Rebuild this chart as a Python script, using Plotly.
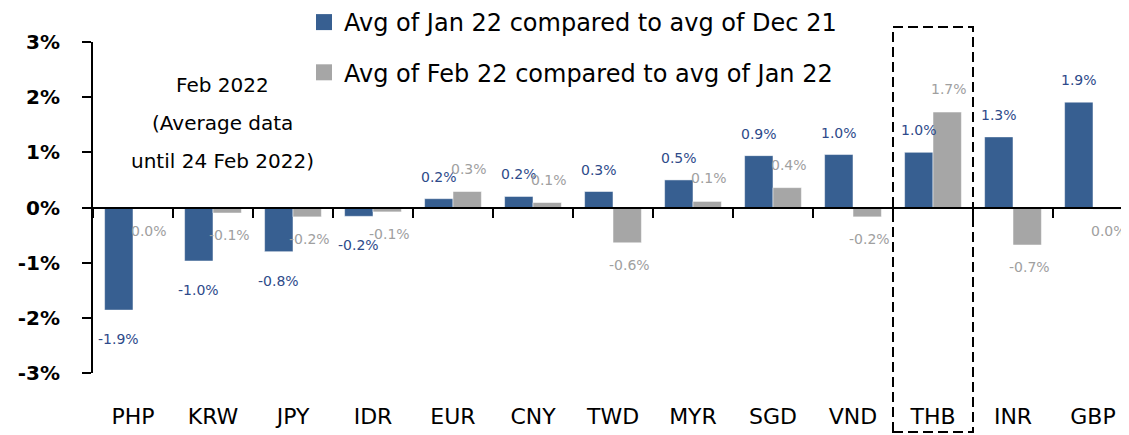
import plotly.graph_objects as go

categories = ["PHP", "KRW", "JPY", "IDR", "EUR", "CNY", "TWD", "MYR", "SGD", "VND", "THB", "INR", "GBP"]
jan_vs_dec = [-1.86, -0.97, -0.80, -0.16, 0.16, 0.20, 0.29, 0.50, 0.94, 0.96, 1.00, 1.28, 1.91]
feb_vs_jan = [-0.02, -0.10, -0.17, -0.08, 0.29, 0.09, -0.64, 0.11, 0.36, -0.17, 1.73, -0.68, -0.03]
series_names = ["Avg of Jan 22 compared to avg of Dec 21", "Avg of Feb 22 compared to avg of Jan 22"]
y_ticks = [-3, -2, -1, 0, 1, 2, 3]
y_tick_text = ["-3%", "-2%", "-1%", "0%", "1%", "2%", "3%"]
note_lines = ["Feb 2022", "(Average data", "until 24 Feb 2022)"]
highlight = "THB"

BLUE = "#375F91"
GRAY = "#A6A6A6"
BLUE_TXT = "#2E4A8A"
GRAY_TXT = "#A0A0A0"
FONT = "DejaVu Sans"
BARGAP = 0.29

# page body adds an 8px offset; compensate so the figure lines up in the 1129x435 window
OFF = 8
W, H = 1129 - OFF, 435 - OFF
ML, MT, MB = 93 - OFF, 42 - OFF, 62
PW, PH = W - ML, H - MT - MB

def fmt(v):
    s = f"{v:.1f}"
    if s == "-0.0":
        s = "0.0"
    return s + "%"

fig = go.Figure()
for vals, col in [(jan_vs_dec, BLUE), (feb_vs_jan, GRAY)]:
    fig.add_trace(go.Bar(x=categories, y=vals,
                         marker=dict(color=col, line=dict(color="rgba(255,255,255,0.5)", width=1)),
                         showlegend=False, hoverinfo="skip"))
# legend entries
for i, (col, name) in enumerate([(BLUE, series_names[0]), (GRAY, series_names[1])]):
    fig.add_trace(go.Scatter(x=[None], y=[None], mode="markers", name=name, legendgroup=f"g{i}",
                             marker=dict(symbol="square", size=18, color=col)))
# invisible trace for the category-label axis
fig.add_trace(go.Scatter(x=categories, y=[0] * len(categories), xaxis="x2", mode="markers",
                         marker=dict(opacity=0), showlegend=False, hoverinfo="skip"))

half = (1 - BARGAP) / 4
for idx, (a, b) in enumerate(zip(jan_vs_dec, feb_vs_jan)):
    fig.add_annotation(x=idx - half, y=a, text=fmt(a), showarrow=False,
                       yshift=22 if a >= 0 else -29, font=dict(family=FONT, size=14, color=BLUE_TXT))
    fig.add_annotation(x=idx + half, y=b, text=fmt(b), showarrow=False, xshift=2,
                       yshift=23 if b >= 0 else -22, font=dict(family=FONT, size=14, color=GRAY_TXT))

for i, line in enumerate(note_lines):
    fig.add_annotation(xref="paper", yref="paper", x=(222 - 93) / PW, y=1 - (85 + 38 * i - 42) / PH,
                       xanchor="center", yanchor="middle",
                       text=line, showarrow=False, font=dict(family=FONT, size=20, color="black"))

hi = categories.index(highlight)
fig.add_shape(type="rect", xref="x", yref="paper", x0=hi - 0.5, x1=hi + 0.5,
              y0=-(432 - 373) / PH, y1=1 + (42 - 27) / PH,
              line=dict(color="black", width=2, dash="10px,5px"), fillcolor="rgba(0,0,0,0)")

fig.update_layout(
    width=W, height=H,
    margin=dict(l=ML, r=0, t=MT, b=MB, autoexpand=False),
    paper_bgcolor="white", plot_bgcolor="white",
    barmode="group", bargap=BARGAP, bargroupgap=0,
    font=dict(family=FONT, color="black"),
    legend=dict(x=(304 - 93) / PW, y=1 + (42 + 0) / PH, xanchor="left", yanchor="top",
                font=dict(family=FONT, size=24, color="black"), tracegroupgap=16,
                bgcolor="rgba(0,0,0,0)", itemwidth=30),
    xaxis=dict(type="category", categoryarray=categories, range=[-0.5, 12.45],
               anchor="free", position=0.5, showline=True, linecolor="black", linewidth=2,
               ticks="outside", tickson="boundaries", ticklen=9, tickwidth=2, tickcolor="black",
               showticklabels=False, showgrid=False, zeroline=False),
    xaxis2=dict(type="category", categoryarray=categories, matches="x", overlaying="x", anchor="y",
                side="bottom", showline=False, ticks="", showgrid=False, zeroline=False,
                ticklabelstandoff=28, tickfont=dict(family=FONT, size=22, color="black")),
    yaxis=dict(range=[-3, 3], tickvals=y_ticks, ticktext=y_tick_text, showline=True, linecolor="black",
               linewidth=2, ticks="outside", ticklen=9, tickwidth=2, tickcolor="black",
               showgrid=False, zeroline=False, ticklabelstandoff=18,
               tickfont=dict(family=FONT, size=20, color="black", weight="bold")),
)

fig.write_html("out.html")
